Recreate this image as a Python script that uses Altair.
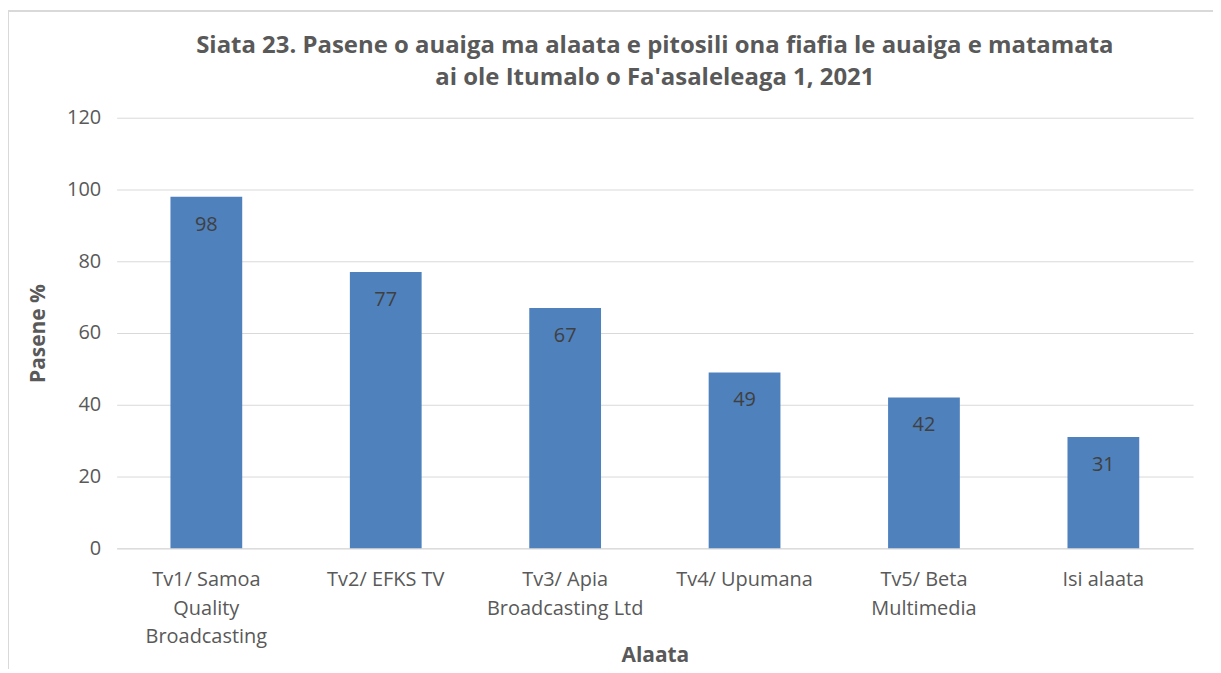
import altair as alt
import pandas as pd

categories = [
    "Tv1/ Samoa Quality Broadcasting",
    "Tv2/ EFKS TV",
    "Tv3/ Apia Broadcasting Ltd",
    "Tv4/ Upumana",
    "Tv5/ Beta Multimedia",
    "Isi alaata",
]
label_lines = [
    ["Tv1/ Samoa", "Quality", "Broadcasting"],
    ["Tv2/ EFKS TV"],
    ["Tv3/ Apia", "Broadcasting Ltd"],
    ["Tv4/ Upumana"],
    ["Tv5/ Beta", "Multimedia"],
    ["Isi alaata"],
]
values = [98, 77, 67, 49, 42, 31]

df = pd.DataFrame({"cat": categories, "val": values})

FONT = "Open Sans"
label_expr = "{" + ", ".join(
    f'"{c}": {label_lines[i]!r}'.replace("'", '"') for i, c in enumerate(categories)
) + "}[datum.value]"

x = alt.X(
    "cat:N",
    sort=categories,
    title="Alaata",
    scale=alt.Scale(paddingInner=0.6, paddingOuter=0.3),
    axis=alt.Axis(
        labelAngle=0,
        labelExpr=label_expr,
        labelFont=FONT,
        labelFontSize=20,
        labelColor="#595959",
        labelLineHeight=29,
        labelPadding=21,
        ticks=False,
        domainColor="#d9d9d9",
        titleFont=FONT,
        titleFontSize=21,
        titleFontWeight="bold",
        titleColor="#595959",
        titlePadding=-2,
    ),
)
y = alt.Y(
    "val:Q",
    title="Pasene %",
    scale=alt.Scale(domain=[0, 120]),
    axis=alt.Axis(
        values=[0, 20, 40, 60, 80, 100, 120],
        labelFont=FONT,
        labelFontSize=20,
        labelColor="#595959",
        labelPadding=16,
        ticks=False,
        domain=False,
        gridColor="#d9d9d9",
        titleFont=FONT,
        titleFontSize=21,
        titleFontWeight="bold",
        titleColor="#595959",
        titlePadding=18,
    ),
)

bars = alt.Chart(df).mark_bar(color="#4f81bd").encode(x=x, y=y)
labels = alt.Chart(df).mark_text(
    dy=28, font=FONT, fontSize=20, color="#404040"
).encode(x=alt.X("cat:N", sort=categories), y="val:Q", text="val:Q")

frame = alt.Chart(df).mark_rect(
    fill=None, stroke="#d9d9d9", strokeWidth=1.5, clip=False
).encode(
    x=alt.value(-109), x2=alt.value(1300), y=alt.value(-107), y2=alt.value(700)
)

chart = (
    alt.layer(frame, bars, labels)
    .properties(
        width=1080,
        height=432,
        autosize=alt.AutoSizeParams(type="none"),
        padding={"left": 109, "top": 109, "right": 20, "bottom": 120},
        title=alt.TitleParams(
            text=[
                "Siata 23. Pasene o auaiga ma alaata e pitosili ona fiafia le auaiga e matamata",
                "ai ole Itumalo o Fa'asaleleaga 1, 2021",
            ],
            font=FONT,
            fontSize=24,
            fontWeight="bold",
            color="#595959",
            lineHeight=32,
            offset=0,
            dy=80,
            anchor="middle",
            frame="group",
        ),
    )
    .configure_view(stroke=None)
)

chart.save("out.html", embed_options={"renderer": "svg", "actions": False})
